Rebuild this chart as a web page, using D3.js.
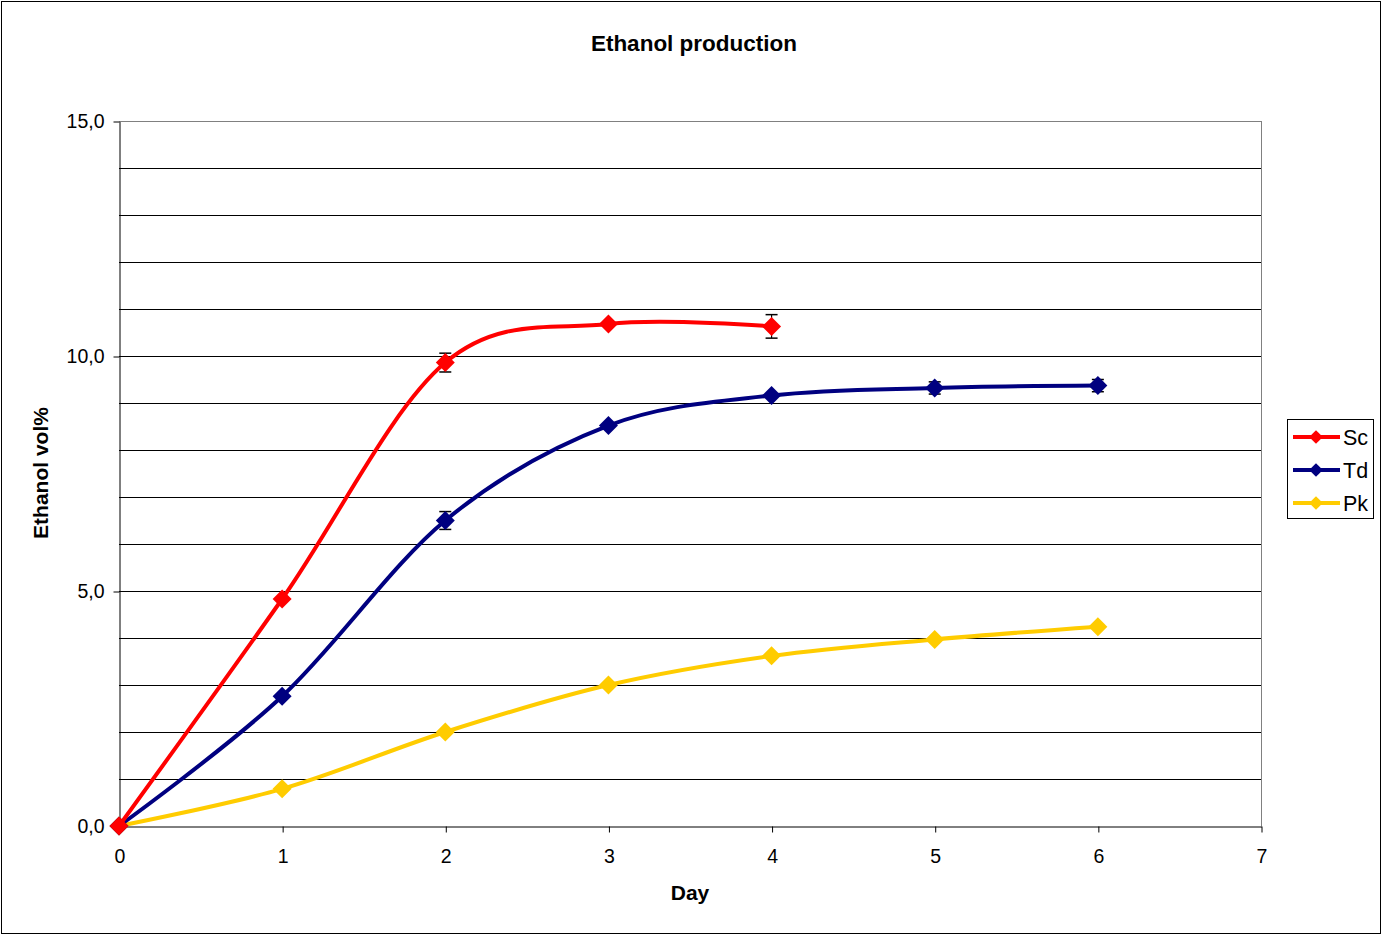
<!DOCTYPE html>
<html>
<head>
<meta charset="utf-8">
<script src="https://cdn.jsdelivr.net/npm/d3@7"></script>
<style>
  body { margin: 0; background: #fff; }
  svg { display: block; font-family: "Liberation Sans", Arial, sans-serif; }
</style>
</head>
<body>
<svg id="chart"></svg>
<script>
// data
const days = [0, 1, 2, 3, 4, 5, 6];
const scValues = [0, 4.83, 9.86, 10.68, 10.63];
const scErrors = [0, 0, 0.2, 0, 0.25];
const tdValues = [0, 2.76, 6.50, 8.52, 9.16, 9.32, 9.37];
const tdErrors = [0, 0, 0.19, 0, 0, 0.13, 0.13];
const pkValues = [0, 0.79, 2.0, 3.0, 3.62, 3.97, 4.24];
const seriesNames = ["Sc", "Td", "Pk"];
const xTickLabels = ["0", "1", "2", "3", "4", "5", "6", "7"];
const yTickLabels = ["0,0", "5,0", "10,0", "15,0"];

const seriesColors = ["#ff0000", "#000080", "#ffcc00"];
const series = [
    {name: seriesNames[0], values: scValues, errors: scErrors, color: seriesColors[0]},
    {name: seriesNames[1], values: tdValues, errors: tdErrors, color: seriesColors[1]},
    {name: seriesNames[2], values: pkValues, errors: null, color: seriesColors[2]}
];

const W = 1382, H = 935;
const margin = {top: 121, right: 121, bottom: 109, left: 119};

const svg = d3.select("#chart").attr("width", W).attr("height", H);

// outer frame
svg.append("rect")
    .attr("x", 1.5).attr("y", 1.5)
    .attr("width", W - 3).attr("height", H - 3)
    .attr("fill", "#fff").attr("stroke", "#000").attr("stroke-width", 1);

const x = d3.scaleLinear().domain([0, 7]).range([margin.left, W - margin.right]);
const y = d3.scaleLinear().domain([0, 15]).range([H - margin.bottom, margin.top]);

// title
svg.append("text")
    .attr("x", 694).attr("y", 51)
    .attr("text-anchor", "middle")
    .style("font-size", "22.5px")
    .attr("font-weight", "bold")
    .text("Ethanol production");

// gridlines
svg.append("g")
    .selectAll("line")
    .data(d3.range(1, 16))
    .join("line")
    .attr("x1", x(0)).attr("x2", x(7))
    .attr("y1", d => Math.round(y(d)) + 0.5).attr("y2", d => Math.round(y(d)) + 0.5)
    .attr("stroke", d => d === 15 ? "#808080" : "#000")
    .attr("stroke-width", 1);

// right border of plot area
svg.append("line")
    .attr("x1", Math.round(x(7)) + 0.5).attr("x2", Math.round(x(7)) + 0.5)
    .attr("y1", y(15)).attr("y2", y(0))
    .attr("stroke", "#808080");

// axes
const xAxis = d3.axisBottom(x).tickValues(d3.range(0, 8))
    .tickFormat((d, i) => xTickLabels[i]).tickSize(6).tickSizeOuter(0);
const gx = svg.append("g")
    .attr("transform", `translate(0.5, ${Math.round(y(0)) + 0.5})`)
    .call(xAxis);
gx.select(".domain").attr("stroke", "#000");
gx.selectAll(".tick text")
    .style("font-size", "19.5px")
    .style("font-family", "Liberation Sans, Arial, sans-serif")
    .attr("y", 23);

const yAxis = d3.axisLeft(y).tickValues([0, 5, 10, 15])
    .tickFormat((d, i) => yTickLabels[i]).tickSize(6).tickSizeOuter(0);
const gy = svg.append("g")
    .attr("transform", `translate(${Math.round(x(0)) + 0.5}, 0.5)`)
    .call(yAxis);
gy.select(".domain").attr("stroke", "#000");
gy.selectAll(".tick text")
    .style("font-size", "19.5px")
    .style("font-family", "Liberation Sans, Arial, sans-serif")
    .attr("x", -15);

// axis titles
svg.append("text")
    .attr("x", 690).attr("y", 900)
    .attr("text-anchor", "middle")
    .style("font-size", "21px").attr("font-weight", "bold")
    .text("Day");

svg.append("text")
    .attr("transform", "translate(48, 473) rotate(-90)")
    .attr("text-anchor", "middle")
    .style("font-size", "21px").attr("font-weight", "bold")
    .text("Ethanol vol%");

// lines
const line = d3.line()
    .x((d, i) => x(days[i]))
    .y(d => y(d))
    .curve(d3.curveCatmullRom.alpha(0));

const diamond = d3.symbol().type(d3.symbolDiamond2).size(230);

// draw Pk first so red ends on top
[series[2], series[1], series[0]].forEach(s => {
    const g = svg.append("g");
    g.append("path")
        .attr("d", line(s.values))
        .attr("fill", "none")
        .attr("stroke", s.color)
        .attr("stroke-width", 4)
        .attr("stroke-linejoin", "round");

    if (s.errors) {
        const eb = g.selectAll(".err")
            .data(s.values.map((v, i) => ({v, e: s.errors[i], day: days[i]})).filter(d => d.e > 0))
            .join("g");
        eb.append("line")
            .attr("x1", d => x(d.day)).attr("x2", d => x(d.day))
            .attr("y1", d => y(d.v + d.e)).attr("y2", d => y(d.v - d.e))
            .attr("stroke", "#000").attr("stroke-width", 1.2);
        eb.selectAll(".cap")
            .data(d => [d.v + d.e, d.v - d.e].map(v => ({v, day: d.day})))
            .join("line")
            .attr("x1", d => x(d.day) - 6).attr("x2", d => x(d.day) + 6)
            .attr("y1", d => y(d.v)).attr("y2", d => y(d.v))
            .attr("stroke", "#000").attr("stroke-width", 1.5);
    }

    g.selectAll(".marker")
        .data(s.values)
        .join("path")
        .attr("d", diamond)
        .attr("transform", (d, i) => `translate(${x(days[i])}, ${y(d)})`)
        .attr("fill", s.color);
});

// legend
const legend = svg.append("g");
legend.append("rect")
    .attr("x", 1287.5).attr("y", 419.5)
    .attr("width", 86).attr("height", 99)
    .attr("fill", "#fff").attr("stroke", "#000");

series.forEach((s, i) => {
    const ly = 437 + i * 33;
    legend.append("line")
        .attr("x1", 1293).attr("x2", 1340)
        .attr("y1", ly).attr("y2", ly)
        .attr("stroke", s.color).attr("stroke-width", 4);
    legend.append("path")
        .attr("d", d3.symbol().type(d3.symbolDiamond2).size(120))
        .attr("transform", `translate(1316, ${ly})`)
        .attr("fill", s.color);
    legend.append("text")
        .attr("x", 1343).attr("y", ly + 8)
        .style("font-size", "21.5px")
        .text(s.name);
});
</script>
</body>
</html>
